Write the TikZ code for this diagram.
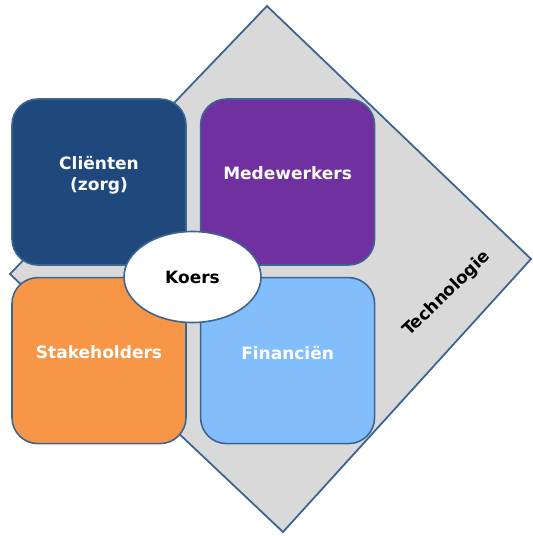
\documentclass[tikz,border=0pt]{standalone}
\usepackage{fontspec}
\setmainfont{DejaVu Sans}
\usetikzlibrary{positioning}
\usetikzlibrary{shapes.geometric}
\definecolor{rimblue}{HTML}{3D6592}
\definecolor{techgray}{HTML}{D9D9D9}
\definecolor{clientblue}{HTML}{1F497D}
\definecolor{staffpurple}{HTML}{7030A0}
\definecolor{holderorange}{HTML}{F79646}
\definecolor{moneyblue}{HTML}{83BEFC}
\tikzset{x=1pt, y=-1pt}
\tikzset{area/.style={draw=rimblue, line width=1.6pt, rounded corners=26pt, minimum width=174pt, minimum height=166pt, inner sep=0pt}}
\tikzset{areatext/.style={text=white, font=\fontsize{17}{21}\selectfont\bfseries, align=center}}
\tikzset{core/.style={draw=rimblue, line width=1.6pt, ellipse, fill=white, minimum width=137pt, minimum height=91pt, inner sep=0pt, font=\fontsize{17}{21}\selectfont\bfseries}}

\begin{document}
\begin{tikzpicture}
\useasboundingbox (0,0) rectangle (533,536);

% technologie diamond
\coordinate (dtop) at (267,6);
\coordinate (dright) at (531,259);
\coordinate (dbottom) at (283,532);
\coordinate (dleft) at (10,274);
\draw[draw=rimblue, line width=1.8pt, fill=techgray, line join=miter]
  (dtop) -- (dright) -- (dbottom) -- (dleft) -- cycle;
\node[rotate=44, font=\fontsize{17}{21}\selectfont\bfseries] (tech) at (447,294) {Technologie};

% four areas
\node[area, fill=clientblue] (clienten) at (99,182) {};
\node[area, fill=staffpurple, right=13pt of clienten] (medewerkers) {};
\node[area, fill=holderorange, below=11pt of clienten] (stakeholders) {};
\node[area, fill=moneyblue, right=13pt of stakeholders] (financien) {};

\node[areatext] (clientenT) at ([yshift=7pt]clienten.center) {Cliënten\\(zorg)};
\node[areatext] (medewerkersT) at ([yshift=9pt]medewerkers.center) {Medewerkers};
\node[areatext] (stakeholdersT) at ([yshift=8pt]stakeholders.center) {Stakeholders};
\node[areatext] (financienT) at ([yshift=8pt]financien.center) {Financiën};

% centre
\node[core] (koers) at (192.5,277) {Koers};
\end{tikzpicture}
\end{document}
